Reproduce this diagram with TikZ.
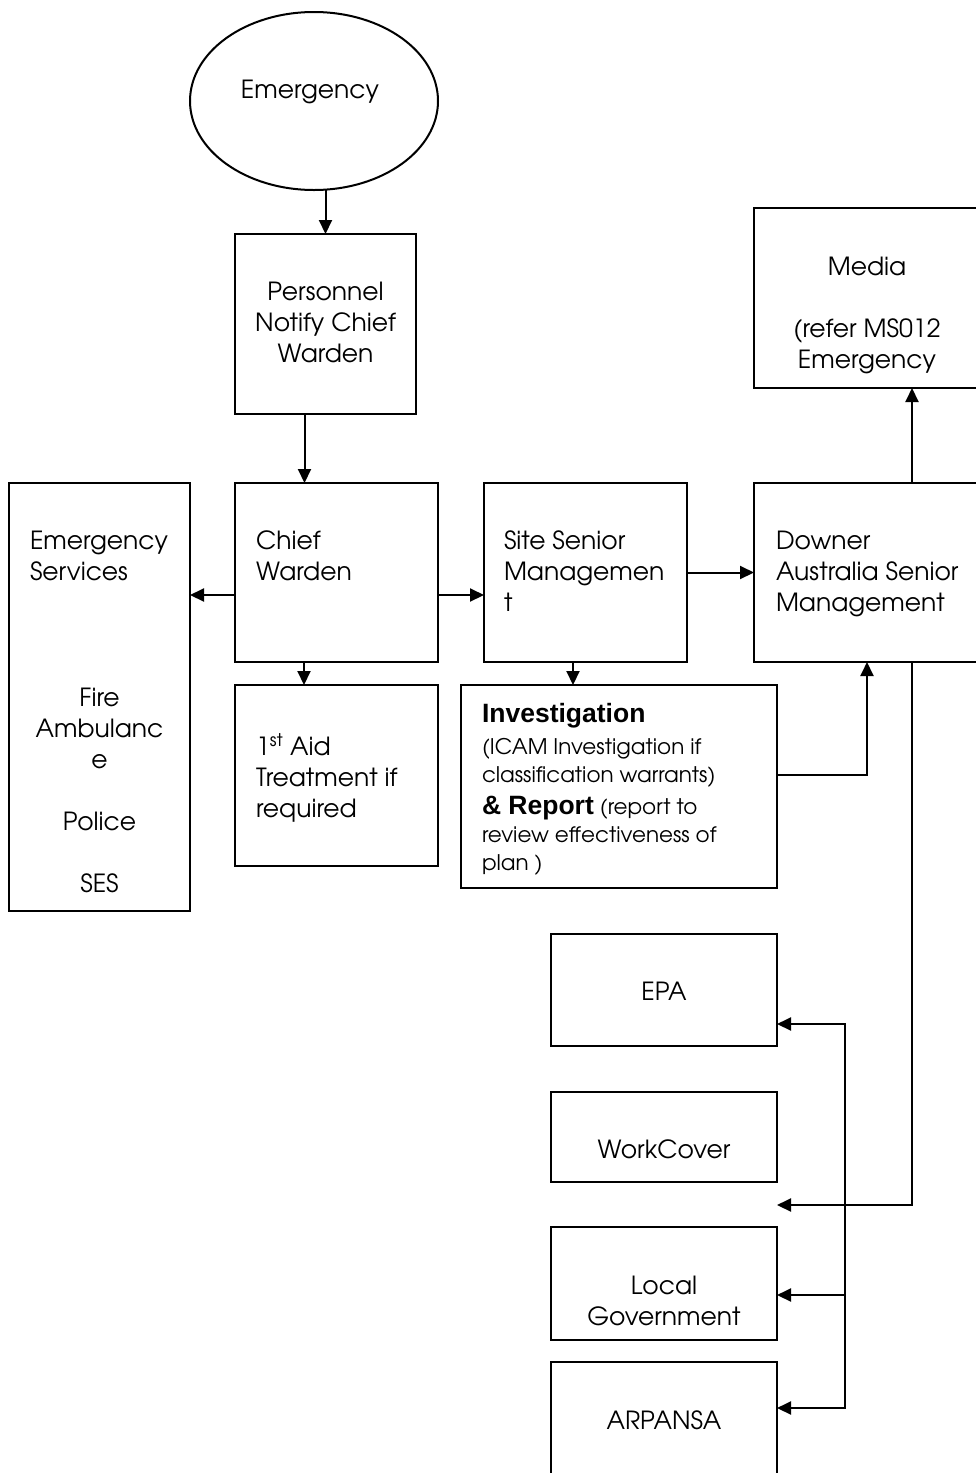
\documentclass[tikz,border=0pt]{standalone}
\usepackage{fontspec}
\setmainfont{TeX Gyre Adventor}
\newfontfamily\arialfont{Liberation Sans}
\usetikzlibrary{positioning, arrows.meta, shapes.geometric}

\tikzset{
  box/.style={draw, rectangle, anchor=north west, inner sep=0pt, outer sep=0pt},
  txt/.style={inner sep=0pt, align=left},
  ctxt/.style={inner sep=0pt, align=center},
}
\newcommand{\headbf}[1]{{\arialfont\bfseries\fontsize{26.5}{28}\selectfont #1}}

\begin{document}
\begin{tikzpicture}[x=1pt, y=-1pt, line width=2pt,
    >={Triangle[length=14pt,width=13pt]},
    font=\fontsize{25}{31}\selectfont]
    \useasboundingbox (0,0) rectangle (976,1473);
    \clip (0,0) rectangle (976,1473);

    % top of the chain
    \node[ellipse, draw, outer sep=0pt, minimum width=248pt, minimum height=178pt] (emerg) at (314,101) {};
    \node[ctxt] (emerg-t) at (310,92) {Emergency};
    \node[box, minimum width=181pt, minimum height=180pt] (pers) at (235,234) {};
    \node[ctxt, below=47pt of pers.north] (pers-t) {Personnel\\Notify Chief\\Warden};

    % middle row
    \node[box, minimum width=181pt, minimum height=428pt] (es) at (9,483) {};
    \node[txt, below right=47pt and 20pt of es.north west] (es-t) {Emergency\\Services};
    \node[ctxt, below=204pt of es.north] (es-list) {Fire\\Ambulanc\\e\\[31pt]Police\\[31pt]SES};
    \node[box, minimum width=203pt, minimum height=179pt] (chief) at (235,483) {};
    \node[txt, below right=47pt and 20pt of chief.north west] (chief-t) {Chief\\Warden};
    \node[box, minimum width=203pt, minimum height=179pt, right=46pt of chief] (site) {};
    \node[txt, below right=47pt and 19pt of site.north west] (site-t) {Site Senior\\Managemen\\t};
    \node[box, minimum width=226pt, minimum height=179pt, right=67pt of site] (downer) {};
    \node[txt, below right=47pt and 21pt of downer.north west] (downer-t) {Downer\\Australia Senior\\Management};
    \node[box, minimum width=226pt, minimum height=180pt] (media) at (754,208) {};
    \node[ctxt, below=48pt of media.north] (media-t) {Media\\[31pt](refer MS012\\Emergency};

    % below the chief warden and site management
    \node[box, minimum width=203pt, minimum height=181pt, below=23pt of chief] (aid) {};
    \node[txt, below right=48pt and 20pt of aid.north west] (aid-t) {1\textsuperscript{st} Aid\\Treatment if\\required};
    \node[box, minimum width=316pt, minimum height=203pt] (inv) at (461,685) {};
    \node[txt, below right=17pt and 20pt of inv.north west, font=\fontsize{21.5}{28}\selectfont] (inv-t)
        {\headbf{Investigation}\\[4pt](ICAM Investigation if\\classification warrants)\\[4pt]\headbf{\& Report} (report to\\review effectiveness of\\plan )};

    % authorities
    \node[box, minimum width=226pt, minimum height=112pt] (epa) at (551,934) {};
    \node[ctxt, below=47pt of epa.north] (epa-t) {EPA};
    \node[box, minimum width=226pt, minimum height=90pt, below=46pt of epa] (wc) {};
    \node[ctxt, below=47pt of wc.north] (wc-t) {WorkCover};
    \node[box, minimum width=226pt, minimum height=113pt, below=45pt of wc] (lg) {};
    \node[ctxt, below=48pt of lg.north] (lg-t) {Local\\Government};
    \node[box, minimum width=226pt, minimum height=140pt, below=22pt of lg] (arp) {};
    \node[ctxt, below=48pt of arp.north] (arp-t) {ARPANSA};

    \coordinate (bus-epa) at (845,1024);
    \coordinate (bus-lg) at (845,1295);
    \coordinate (bus-arp) at (845,1408);
    \coordinate (gap) at (777,1205);

    % connectors
    \draw[->] (emerg.south -| pers.north) -- (pers.north);
    \draw[->] ([xshift=-21pt]pers.south) -- ([xshift=-21pt]pers.south |- chief.north);
    \draw[->] ([yshift=-22.5pt]chief.west) -- ([yshift=-22.5pt]chief.west -| es.east);
    \draw[->] ([yshift=-22.5pt]chief.east) -- ([yshift=-22.5pt]chief.east -| site.west);
    \draw[->] ([xshift=-32.5pt]chief.south) -- ([xshift=-32.5pt]chief.south |- aid.north);
    \draw[->] (site.east) -- (downer.west);
    \draw[->] ([xshift=-12.5pt]site.south) -- ([xshift=-12.5pt]site.south |- inv.north);
    \draw[->] ([yshift=11.5pt]inv.east) -| (downer.south);
    \draw[->] ([xshift=45pt]downer.north) -- ([xshift=45pt]downer.north |- media.south);
    \draw[->] ([xshift=45pt]downer.south) |- (gap);
    \draw[<->] (bus-arp -| arp.east) -- (bus-arp) -- (bus-epa) -- (bus-epa -| epa.east);
    \draw[->] (bus-lg) -- (bus-lg -| lg.east);
\end{tikzpicture}
\end{document}
